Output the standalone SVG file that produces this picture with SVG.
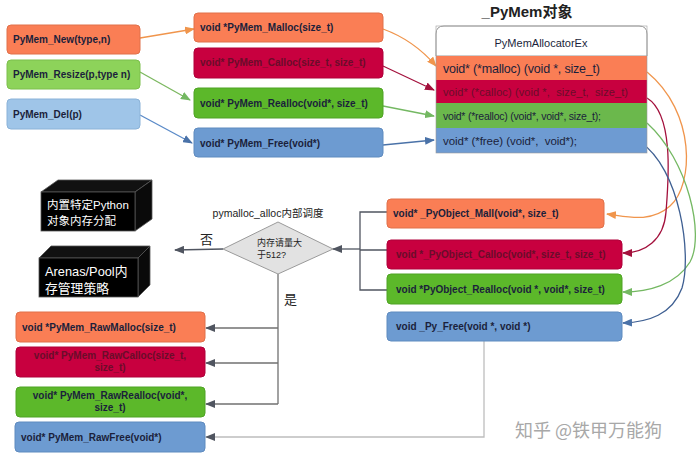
<svg xmlns="http://www.w3.org/2000/svg" width="700" height="457" viewBox="0 0 700 457">
<style>
.t{font-family:"Liberation Sans",Arial,sans-serif;font-size:10px;font-weight:bold;fill:#1b1f3b}
.tc{font-family:"Liberation Sans",Arial,sans-serif;font-size:10px;font-weight:bold;fill:#6a0d2a}
.r{font-family:"Liberation Sans",Arial,sans-serif;fill:#1b1f3b}
.w{font-family:"Liberation Sans","Noto Sans CJK SC",sans-serif;fill:#fff}
.k{font-family:"Liberation Sans","Noto Sans CJK SC",sans-serif;fill:#222}
.or{fill:#fa7e55;stroke:#e0704a}
.cr{fill:#c8003f;stroke:#b0003a}
.gr{fill:#5cb82a;stroke:#4fa324}
.lg{fill:#8dd35a;stroke:#7cbf4c}
.lb{fill:#9fc5e8;stroke:#8ab2d8}
.bl{fill:#6d9bd1;stroke:#5f8bbf}
.c{fill:none;stroke-width:1.3}
</style>
<defs>
<marker id="aO" markerWidth="10" markerHeight="8" refX="9" refY="4" orient="auto" markerUnits="userSpaceOnUse"><path d="M0,0L10,4L0,8z" fill="#f0954c"/></marker>
<marker id="aC" markerWidth="10" markerHeight="8" refX="9" refY="4" orient="auto" markerUnits="userSpaceOnUse"><path d="M0,0L10,4L0,8z" fill="#a3103c"/></marker>
<marker id="aG" markerWidth="10" markerHeight="8" refX="9" refY="4" orient="auto" markerUnits="userSpaceOnUse"><path d="M0,0L10,4L0,8z" fill="#74b862"/></marker>
<marker id="aB" markerWidth="10" markerHeight="8" refX="9" refY="4" orient="auto" markerUnits="userSpaceOnUse"><path d="M0,0L10,4L0,8z" fill="#4a72a8"/></marker>
<marker id="aK" markerWidth="10" markerHeight="8" refX="9" refY="4" orient="auto" markerUnits="userSpaceOnUse"><path d="M0,0L10,4L0,8z" fill="#505560"/></marker>
</defs>
<rect width="700" height="457" fill="#fff"/>

<g id="connectors">
<path class="c" d="M140,38 L194,29" stroke="#f0954c" stroke-width="2.2" marker-end="url(#aO)"/>
<path class="c" d="M140,72 L190,100" stroke="#7cb860" marker-end="url(#aG)"/>
<path class="c" d="M140,115 L192,143" stroke="#5a8ac8" marker-end="url(#aB)"/>
<path class="c" d="M383,29 C408,38 424,52 436,66" stroke="#f0954c" marker-end="url(#aO)"/>
<path class="c" d="M383,66 L434,90" stroke="#a3103c" marker-end="url(#aC)"/>
<path class="c" d="M383,106 L434,116" stroke="#74b862" marker-end="url(#aG)"/>
<path class="c" d="M383,145 L434,140" stroke="#4a72a8" marker-end="url(#aB)"/>
<path class="c" d="M647,72 C696,112 694,185 670,206 C650,224 625,216 607,214" stroke="#f0954c" marker-end="url(#aO)"/>
<path class="c" d="M647,98 C675,115 668,185 666,212 C664,240 645,253 623,253" stroke="#a3103c" marker-end="url(#aC)"/>
<path class="c" d="M647,123 C688,160 705,235 690,262 C676,285 648,292 623,292" stroke="#74b862" marker-end="url(#aG)"/>
<path class="c" d="M640,142 C680,168 692,255 682,288 C672,315 648,322 623,323" stroke="#3e5f92" marker-end="url(#aB)"/>
<path class="c" d="M387,212 L360,212 L360,290 L387,290 M360,250 L387,250" stroke="#505560"/>
<path class="c" d="M360,249 L333,249" stroke="#505560" marker-end="url(#aK)"/>
<path class="c" d="M223,249 L175,250" stroke="#505560" marker-end="url(#aK)"/>
<path class="c" d="M278,274 L278,404" stroke="#707070"/>
<path class="c" d="M278,328 L206,328" stroke="#707070" marker-end="url(#aK)"/>
<path class="c" d="M278,363 L206,363" stroke="#707070" marker-end="url(#aK)"/>
<path class="c" d="M278,404 L206,404" stroke="#707070" marker-end="url(#aK)"/>
<path class="c" d="M484,341 L484,437 L206,437" stroke="#bdbdbd" marker-end="url(#aK)"/>
</g>

<g id="PyMem_New"><rect class="or" x="7" y="25" width="133" height="29" rx="4"/><text class="t" x="13" y="43">PyMem_New(type,n)</text></g>
<g id="PyMem_Resize"><rect class="lg" x="7" y="60" width="133" height="29" rx="4"/><text class="t" x="13" y="78">PyMem_Resize(p,type n)</text></g>
<g id="PyMem_Del"><rect class="lb" x="7" y="99" width="133" height="30" rx="4"/><text class="t" x="13" y="118">PyMem_Del(p)</text></g>

<g id="PyMem_Malloc"><rect class="or" x="194" y="13" width="189" height="29" rx="4"/><text class="t" x="200" y="31">void *PyMem_Malloc(size_t)</text></g>
<g id="PyMem_Calloc"><rect class="cr" x="194" y="48" width="189" height="30" rx="4"/><text class="tc" x="200" y="66">void* PyMem_Calloc(size_t, size_t)</text></g>
<g id="PyMem_Realloc"><rect class="gr" x="194" y="88" width="189" height="30" rx="4"/><text class="t" x="200" y="107">void* PyMem_Realloc(void*, size_t)</text></g>
<g id="PyMem_Free"><rect class="bl" x="194" y="128" width="189" height="29" rx="4"/><text class="t" x="200" y="147">void* PyMem_Free(void*)</text></g>

<g id="PyMemAllocatorEx">
<text class="k" x="527" y="17" text-anchor="middle" font-size="15" font-weight="bold">_PyMem对象</text>
<path d="M436,56 L436,34 Q436,26 444,26 L639,26 Q647,26 647,34 L647,56 Z" fill="#fff" stroke="#9a9a9a"/>
<text class="r" x="541" y="47" text-anchor="middle" font-size="11">PyMemAllocatorEx</text>
<rect x="436" y="56" width="211" height="24" fill="#fa7e55"/>
<text class="r" x="443" y="73" font-size="12.5" textLength="157">void* (*malloc) (void *, size_t)</text>
<rect x="436" y="80" width="211" height="23" fill="#c8003f"/>
<text x="443" y="96" font-family="Liberation Sans,Arial,sans-serif" font-size="11" fill="#6a0d2a" textLength="185" xml:space="preserve">void* (*calloc) (void *,  size_t,  size_t)</text>
<rect x="436" y="103" width="211" height="25" fill="#6bb84c"/>
<text class="r" x="443" y="120" font-size="10.5" textLength="158">void* (*realloc) (void*, void*, size_t);</text>
<rect x="436" y="128" width="211" height="25" fill="#6e9bd2"/>
<text class="r" x="443" y="145" font-size="11.5" xml:space="preserve" textLength="134">void* (*free) (void*,  void*);</text>
<rect x="436" y="26" width="211" height="127" fill="none" stroke="#9a9a9a" stroke-width="0.6"/>
</g>

<g id="box_builtin">
<path d="M41,192 L58,180 L152,180 L135,192 Z" fill="#111" stroke="#555" stroke-width="0.8"/>
<path d="M135,192 L152,180 L152,219 L135,231 Z" fill="#0a0a0a" stroke="#555" stroke-width="0.8"/>
<rect x="41" y="192" width="94" height="39" fill="#000" stroke="#555" stroke-width="0.8"/>
<text class="w" x="47" y="209" font-size="11.5">内置特定Python</text>
<text class="w" x="47" y="225" font-size="11.5">对象内存分配</text>
</g>
<g id="box_arenas">
<path d="M39,258 L51,246 L150,246 L138,258 Z" fill="#111" stroke="#555" stroke-width="0.8"/>
<path d="M138,258 L150,246 L150,285 L138,297 Z" fill="#0a0a0a" stroke="#555" stroke-width="0.8"/>
<rect x="39" y="258" width="99" height="39" fill="#000" stroke="#555" stroke-width="0.8"/>
<text class="w" x="45" y="276" font-size="12.8">Arenas/Pool内</text>
<text class="w" x="45" y="293" font-size="12.8">存管理策略</text>
</g>

<g id="decision">
<text class="k" x="268" y="217" text-anchor="middle" font-size="10.5">pymalloc_alloc内部调度</text>
<path d="M223,249 L278,222 L333,249 L278,274 Z" fill="#e2e2e2" stroke="#9a9a9a"/>
<text class="k" x="257" y="246" font-size="9">内存请量大</text>
<text class="k" x="257" y="258" font-size="9">于512?</text>
<text class="k" x="200" y="244" font-size="13">否</text>
<text class="k" x="284" y="304" font-size="13">是</text>
</g>

<g id="PyObject_Malloc"><rect class="or" x="387" y="199" width="217" height="29" rx="4"/><text class="t" x="393" y="217">void* _PyObject_Mall(void*, size_t)</text></g>
<g id="PyObject_Calloc"><rect class="cr" x="387" y="240" width="235" height="29" rx="4"/><text class="tc" x="396" y="258">void *_PyObject_Calloc(void*, size_t, size_t)</text></g>
<g id="PyObject_Realloc"><rect class="gr" x="387" y="274" width="235" height="30" rx="4"/><text class="t" x="396" y="293">void *PyObject_Realloc(void *, void*, size_t)</text></g>
<g id="Py_Free"><rect class="bl" x="387" y="312" width="235" height="29" rx="4"/><text class="t" x="396" y="330">void _Py_Free(void *, void *)</text></g>

<g id="PyMem_RawMalloc"><rect class="or" x="16" y="312" width="189" height="30" rx="4"/><text class="t" x="22" y="331">void *PyMem_RawMalloc(size_t)</text></g>
<g id="PyMem_RawCalloc"><rect class="cr" x="16" y="347" width="189" height="30" rx="4"/><text class="tc" x="110" y="359" text-anchor="middle">void* PyMem_RawCalloc(size_t,</text><text class="tc" x="110" y="371" text-anchor="middle">size_t)</text></g>
<g id="PyMem_RawRealloc"><rect class="gr" x="16" y="387" width="189" height="30" rx="4"/><text class="t" x="110" y="399" text-anchor="middle">void* PyMem_RawRealloc(void*,</text><text class="t" x="110" y="411" text-anchor="middle">size_t)</text></g>
<g id="PyMem_RawFree"><rect class="bl" x="15" y="422" width="190" height="30" rx="4"/><text class="t" x="21" y="441">void* PyMem_RawFree(void*)</text></g>

<text x="515" y="437" font-family="Noto Sans CJK SC,sans-serif" font-size="18" fill="#a8a8a8">知乎 @铁甲万能狗</text>
</svg>
